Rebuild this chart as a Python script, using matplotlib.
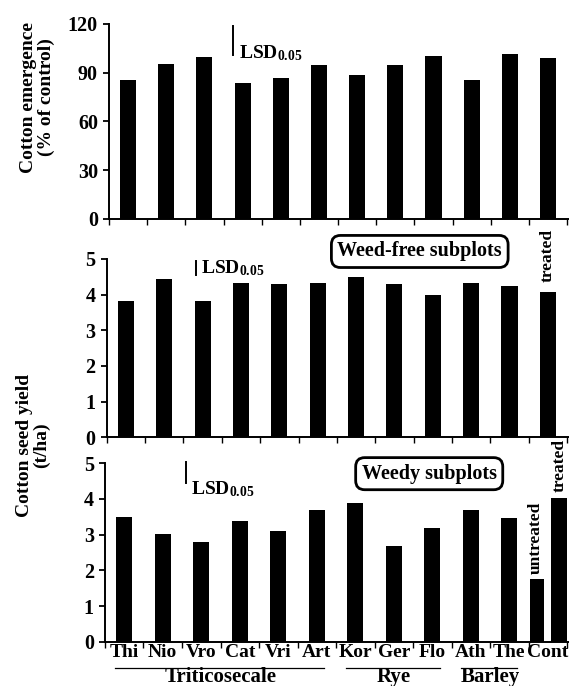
import numpy as np
import matplotlib
matplotlib.use("Agg")
import matplotlib.pyplot as plt

plt.rcParams['font.family'] = ['Liberation Serif', 'DejaVu Serif']
plt.rcParams['font.weight'] = 'bold'
plt.rcParams['mathtext.fontset'] = 'custom'
plt.rcParams['mathtext.rm'] = 'Liberation Serif:bold'
plt.rcParams['mathtext.bf'] = 'Liberation Serif:bold'
plt.rcParams['mathtext.it'] = 'Liberation Serif:bold'

# data
cultivars = ["Thi", "Nio", "Vro", "Cat", "Vri", "Art", "Kor", "Ger", "Flo", "Ath", "The", "Cont"]
emergence = [85.5, 95.4, 99.5, 83.5, 87.0, 95.0, 88.6, 95.0, 100.3, 85.5, 101.5, 98.9]
yield_weedfree = [3.83, 4.43, 3.83, 4.32, 4.30, 4.33, 4.50, 4.30, 3.98, 4.32, 4.25, 4.06]
yield_weedy = [3.50, 3.01, 2.80, 3.39, 3.11, 3.70, 3.90, 2.67, 3.19, 3.68, 3.47]
cont_untreated = 1.75
cont_treated = 4.04
lsd = [18.0, 0.40, 0.60]
groups = ["Triticosecale", "Rye", "Barley"]
group_first = [0, 6, 9]
group_last = [5, 8, 10]

x = np.arange(len(cultivars))
w = 0.42

fig = plt.figure(figsize=(5.69, 6.86), dpi=100)
ax1 = fig.add_axes([0.1916, 0.6808, 0.8084, 0.2843])
ax2 = fig.add_axes([0.1875, 0.3625, 0.8125, 0.2600])
ax3 = fig.add_axes([0.1845, 0.0646, 0.8155, 0.2600])


def style(ax, ymax, step):
    ax.set_xlim(-0.5, 11.55)
    ax.set_ylim(0, ymax)
    ax.set_yticks(np.arange(0, ymax + step / 2, step))
    ax.spines['top'].set_visible(False)
    ax.spines['right'].set_visible(False)
    ax.spines['left'].set_linewidth(1.4)
    ax.spines['bottom'].set_linewidth(1.4)
    ax.set_xticks(np.arange(-0.5, 12, 1.0), minor=True)
    ax.set_xticks([])
    ax.tick_params(axis='x', which='minor', length=4, width=1.0, direction='out')
    ax.tick_params(axis='y', length=4, width=1.3, pad=4, labelsize=14.5)


style(ax1, 120, 30)
style(ax2, 5, 1)
style(ax3, 5, 1)

ax1.bar(x, emergence, width=w, color='black')
ax2.bar(x, yield_weedfree, width=w, color='black')
ax3.bar(x[:-1], yield_weedy, width=w, color='black')
ax3.bar([10.71], [cont_untreated], width=0.36, color='black')
ax3.bar([11.30], [cont_treated], width=0.42, color='black', clip_on=False)

ax3.set_xticks(x)
ax3.set_xticklabels(cultivars)
ax3.tick_params(axis='x', which='major', length=0, pad=2, labelsize=14)

# LSD bars
lsd_spec = [(ax1, 2.74, 101.0, 2.91, 98.9), (ax2, 1.83, 4.55, 1.95, 4.60),
            (ax3, 1.60, 4.44, 1.73, 4.14)]
for (ax, lx, ly, tx, ty), v in zip(lsd_spec, lsd):
    ax.plot([lx, lx], [ly, ly + v], color='black', lw=1.4, clip_on=False)
    ax.text(tx, ty, r'LSD$_{\mathrm{0.05}}$', fontsize=14, ha='left',
            va='baseline', clip_on=False)

box = dict(boxstyle='round,pad=0.3,rounding_size=0.45', fc='white', ec='black', lw=2.0)
ax2.text(7.66, 5.21, "Weed-free subplots", ha='center', va='center', fontsize=14.5,
         bbox=box, clip_on=False)
ax3.text(7.92, 4.71, "Weedy subplots", ha='center', va='center', fontsize=14.5,
         bbox=box, clip_on=False)

ax2.text(11.0, 5.11, "treated", rotation=90, ha='center', va='center', fontsize=12.5,
         clip_on=False)
ax3.text(10.70, 2.92, "untreated", rotation=90, ha='center', va='center', fontsize=12.5,
         clip_on=False)
ax3.text(11.30, 4.95, "treated", rotation=90, ha='center', va='center', fontsize=12.5,
         clip_on=False)

# group lines and names under the bottom axis
for name, a, b in zip(groups, group_first, group_last):
    ax3.plot([a - 0.25, b + 0.2], [-0.73, -0.73], color='black', lw=0.9, clip_on=False)
    ax3.text((a + b) / 2, -0.99, name, ha='center', va='center', fontsize=15,
             clip_on=False)

fig.text(0.066, 0.8586, "Cotton emergence\n(% of control)", rotation=90, ha='center',
         va='center', fontsize=14, linespacing=1.0)
fig.text(0.058, 0.3513, "Cotton seed yield\n(t/ha)", rotation=90, ha='center',
         va='center', fontsize=14, linespacing=1.0)

fig.savefig("out.png", dpi=100)
